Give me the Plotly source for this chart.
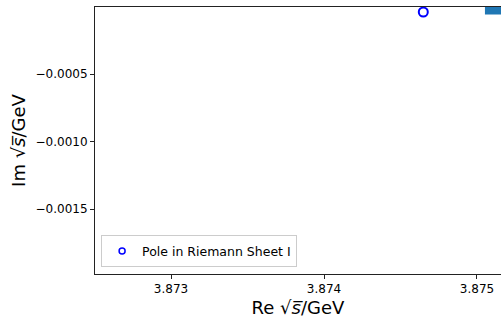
import plotly.graph_objects as go

# Pole position (Riemann sheet I)
pole_re = [3.874649]
pole_im = [-0.0000407]

# Shaded region (partially visible at top-right)
box_re = [3.875052, 3.87530, 3.87530, 3.875052, 3.875052]
box_im = [0.0, 0.0, -0.0000593, -0.0000593, 0.0]

x_ticks = [3.873, 3.874, 3.875]
x_ticktext = ["3.873", "3.874", "3.875"]
y_ticks = [-0.0005, -0.0010, -0.0015]
y_ticktext = ["\u22120.0005", "\u22120.0010", "\u22120.0015"]

x_range = [3.872503, 3.875157]
y_range = [-0.001981, -0.0000037]

font = "DejaVu Sans"

fig = go.Figure()
fig.add_trace(go.Scatter(
    x=box_re, y=box_im, mode="lines", fill="toself",
    fillcolor="#1f77b4", line=dict(width=0, color="#1f77b4"),
    showlegend=False, hoverinfo="skip"))
fig.add_trace(go.Scatter(
    x=pole_re, y=pole_im, mode="markers",
    name="Pole in Riemann Sheet I", showlegend=False,
    marker=dict(symbol="circle-open", size=9, color="blue",
                line=dict(width=2, color="blue")),
    cliponaxis=False))
# legend-only entry with a smaller marker, as in the reference
fig.add_trace(go.Scatter(
    x=[None], y=[None], mode="markers",
    name="Pole in Riemann Sheet I",
    marker=dict(symbol="circle-open", size=6, color="blue",
                line=dict(width=1.5, color="blue"))))

fig.update_layout(
    width=501, height=320,
    margin=dict(l=95, r=0, t=7, b=46, autoexpand=False),
    paper_bgcolor="white", plot_bgcolor="white",
    font=dict(family=font, color="black"),
    showlegend=True,
    legend=dict(x=0.015, y=0.025, xanchor="left", yanchor="bottom",
                bgcolor="rgba(255,255,255,0.8)", bordercolor="#cccccc",
                borderwidth=1, font=dict(size=12.5, family=font),
                itemwidth=30),
    xaxis=dict(range=x_range, tickvals=x_ticks, ticktext=x_ticktext,
               showgrid=False, zeroline=False, showline=True,
               linecolor="#222222", linewidth=1, mirror=True,
               ticks="outside", ticklen=4, tickcolor="#222222",
               tickfont=dict(size=12, family=font), automargin=False,
               title=dict(text="Re \u221a<i>s\u0305</i>/GeV",
                          font=dict(size=18, family=font), standoff=5)),
    yaxis=dict(range=y_range, tickvals=y_ticks, ticktext=y_ticktext,
               showgrid=False, zeroline=False, showline=True,
               linecolor="#222222", linewidth=1,
               ticks="outside", ticklen=4, tickcolor="#222222",
               tickfont=dict(size=12, family=font), automargin=False,
               title=dict(text="Im \u221a<i>s\u0305</i>/GeV",
                          font=dict(size=18, family=font), standoff=5)),
)

fig.write_html("out.html", config={"displayModeBar": False},
               post_script="document.body.style.margin='0';document.body.style.overflow='hidden';")
